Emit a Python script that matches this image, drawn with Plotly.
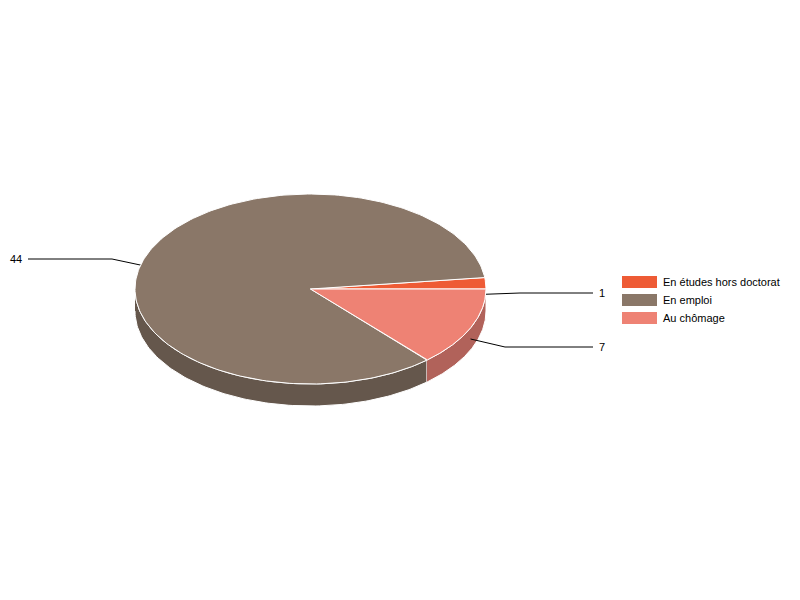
import numpy as np
import plotly.graph_objects as go

# Donnees
categories = ['En études hors doctorat', 'En emploi', 'Au chômage']
values = [1, 44, 7]

# Styles
colors = ['#ee5b35', '#8a7768', '#ee8274']
side_colors = ['#a53f25', '#65574c', '#b1625a']
font = 'Liberation Sans, Arial, sans-serif'

# Geometrie du camembert, en pixels de la page
cx, cy = 310.5, 289
rx, ry = 175.5, 95
depth = 22

# Coudes des traits de rappel et position des etiquettes
elbows = [(520, 293), (112, 259), (505, 347)]
line_ends = [593, 28, 593]
label_x = [602, 16, 602]

# Legende : la legende Plotly ne permet ni ces pastilles ni ce pas de 18 px
legend_left, legend_right, legend_text = 622, 657, 661
legend_rows = [282, 300, 318]


def ellipse(angles, dy=0):
    # angles en degres, sens trigonometrique depuis 3 heures
    t = np.radians(angles)
    return cx + rx * np.cos(t), cy - ry * np.sin(t) + dy


# Angles de debut et de fin de chaque part
edges = np.concatenate([[0], np.cumsum(values) / sum(values) * 360])

fig = go.Figure()

# Flanc du camembert : seule la moitie avant (180 a 360 degres) se voit
for i, cat in enumerate(categories):
    start, end = max(edges[i], 180), max(edges[i + 1], 180)
    if end <= start:
        continue
    arc = np.linspace(start, end, 120)
    x_top, y_top = ellipse(arc)
    x_bot, y_bot = ellipse(arc[::-1], depth)
    fig.add_scatter(x=np.concatenate([x_top, x_bot]), y=np.concatenate([y_top, y_bot]),
                    mode='lines', fill='toself', fillcolor=side_colors[i],
                    line=dict(color='#ffffff', width=1), showlegend=False, hoverinfo='skip')

# Traits de rappel, partant du milieu de chaque part a mi-hauteur du flanc
# (traces avant le dessus, qui cache le bout du trait de la grande part)
for i, val in enumerate(values):
    mid = (edges[i] + edges[i + 1]) / 2
    x0, y0 = ellipse(mid, depth / 2)
    ex, ey = elbows[i]
    fig.add_scatter(x=[x0, ex, line_ends[i]], y=[y0, ey, ey], mode='lines',
                    line=dict(color='#000000', width=1), showlegend=False, hoverinfo='skip')
    fig.add_annotation(x=label_x[i], y=ey, text=str(val), showarrow=False,
                       font=dict(family=font, size=11, color='#000000'))

# Dessus du camembert
for i, cat in enumerate(categories):
    arc = np.linspace(edges[i], edges[i + 1], 240)
    x_arc, y_arc = ellipse(arc)
    fig.add_scatter(x=np.concatenate([[cx], x_arc, [cx]]), y=np.concatenate([[cy], y_arc, [cy]]),
                    mode='lines', fill='toself', fillcolor=colors[i],
                    line=dict(color='#ffffff', width=1), name=cat, showlegend=False,
                    text=f'{cat}: {values[i]}', hoverinfo='text', hoveron='fills')

# Legende
for i, cat in enumerate(categories):
    fig.add_shape(type='rect', x0=legend_left, x1=legend_right,
                  y0=legend_rows[i] - 6, y1=legend_rows[i] + 6,
                  fillcolor=colors[i], line=dict(width=0))
    fig.add_annotation(x=legend_text, y=legend_rows[i], text=cat, showarrow=False,
                       xanchor='left', font=dict(family=font, size=11, color='#000000'))

# La page ajoute 8 px de marge : les axes commencent donc a 8 pour rester en pixels de page
fig.update_layout(
    width=792, height=592,
    margin=dict(l=0, r=0, t=0, b=0),
    paper_bgcolor='#ffffff', plot_bgcolor='#ffffff',
    showlegend=False,
    xaxis=dict(range=[8, 800], visible=False, fixedrange=True),
    yaxis=dict(range=[600, 8], visible=False, fixedrange=True),
)

fig.write_html('out.html')
